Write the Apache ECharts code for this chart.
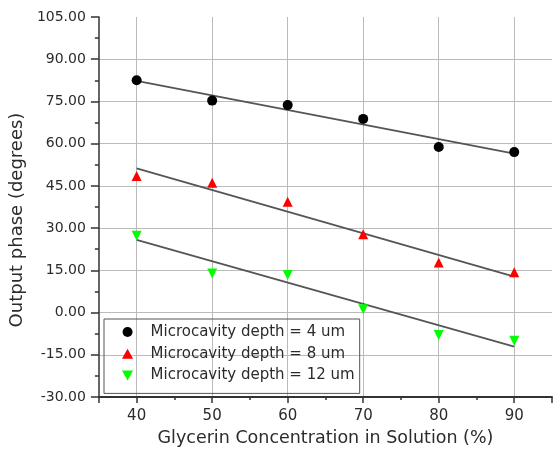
<!DOCTYPE html>
<html>
<head>
<meta charset="utf-8">
<script src="https://cdn.jsdelivr.net/npm/echarts@6/dist/echarts.min.js"></script>
<style>
  html, body { margin: 0; padding: 0; background: #fff; }
  #main { width: 555px; height: 453px; }
</style>
</head>
<body>
<div id="main"></div>
<script>
var concentration = [40, 50, 60, 70, 80, 90];
var depth4 = [82.5, 75.3, 73.7, 68.8, 58.8, 57.0];
var depth8 = [48.5, 46.1, 39.4, 27.8, 17.8, 14.3];
var depth12 = [27.3, 13.9, 13.3, 1.2, -8.0, -10.0];
// fitted lines, end points (x = 40 and x = 90)
var fitX = [40, 90];
var fit4 = [82.3, 56.5];
var fit8 = [51.2, 12.8];
var fit12 = [25.8, -12.1];
var names = ['Microcavity depth = 4 um', 'Microcavity depth = 8 um', 'Microcavity depth = 12 um'];

var font = 'DejaVu Sans';
var triUp = 'path://M5,0 L10,9 L0,9 Z';
var triDown = 'path://M0,0 L10,0 L5,9 Z';

function pairs(xs, ys) {
    return xs.map(function (x, i) { return [x, ys[i]]; });
}
function fitLine(ys) {
    return {
        type: 'line',
        data: pairs(fitX, ys),
        symbol: 'none',
        silent: true,
        lineStyle: { color: '#555', width: 1.8 },
        z: 2
    };
}
function points(name, ys, symbol, color) {
    return {
        name: name,
        type: 'scatter',
        data: pairs(concentration, ys),
        symbol: symbol,
        symbolSize: 10,
        itemStyle: { color: color, opacity: 1 },
        z: 3
    };
}

var chart = echarts.init(document.getElementById('main'));
var option = {
    animation: false,
    grid: { left: 97, top: 17, width: 461.5, height: 380 },
    legend: {
        data: [
            { name: names[0], icon: 'circle' },
            { name: names[1], icon: triUp },
            { name: names[2], icon: triDown }
        ],
        orient: 'vertical',
        left: 104,
        top: 319,
        padding: [4, 5, 9, 18],
        itemWidth: 36,
        itemHeight: 10,
        itemGap: 3.7,
        symbolKeepAspect: true,
        borderColor: '#555',
        borderWidth: 1,
        textStyle: { fontFamily: font, fontSize: 15, color: '#2b2b2b', lineHeight: 18 }
    },
    xAxis: [{
        type: 'value',
        min: 35,
        max: 95,
        splitNumber: 6,
        name: 'Glycerin Concentration in Solution (%)',
        nameLocation: 'middle',
        nameGap: 32,
        nameTextStyle: { fontFamily: font, fontSize: 17.5, color: '#2b2b2b' },
        axisLine: { onZero: false, lineStyle: { color: '#333', width: 2 } },
        axisTick: { length: 6, lineStyle: { color: '#333', width: 1.5 } },
        axisLabel: {
            fontFamily: font, fontSize: 15, color: '#2b2b2b', margin: 12,
            formatter: function (v) { return v % 10 === 0 ? String(v) : ''; }
        },
        splitLine: { show: true, showMinLine: false, showMaxLine: false, lineStyle: { color: '#bbb', width: 1 } }
    }, {
        type: 'value',
        min: 35,
        max: 95,
        interval: 5,
        position: 'bottom',
        axisLine: { show: false, onZero: false },
        axisTick: { length: 3, lineStyle: { color: '#333', width: 1.5 } },
        axisLabel: { show: false },
        splitLine: { show: false }
    }],
    yAxis: {
        type: 'value',
        min: -30,
        max: 105,
        interval: 15,
        name: 'Output phase (degrees)',
        nameLocation: 'middle',
        nameGap: 62,
        nameTextStyle: { fontFamily: font, fontSize: 18, color: '#2b2b2b', padding: [0, 26, 0, 0] },
        axisLine: { show: true, onZero: false, lineStyle: { color: '#333', width: 1.5 } },
        axisTick: { show: true, length: 8, lineStyle: { color: '#333', width: 1.5 } },
        minorTick: { show: true, splitNumber: 2, length: 4, lineStyle: { color: '#333', width: 1.5 } },
        axisLabel: {
            fontFamily: font, fontSize: 14, color: '#2b2b2b', margin: 13,
            formatter: function (v) { return v.toFixed(2); }
        },
        splitLine: { show: true, showMinLine: false, showMaxLine: false, lineStyle: { color: '#bbb', width: 1 } }
    },
    series: [
        fitLine(fit4),
        fitLine(fit8),
        fitLine(fit12),
        points(names[0], depth4, 'circle', '#000'),
        points(names[1], depth8, triUp, '#ff0000'),
        points(names[2], depth12, triDown, '#00ff00')
    ]
};
option && chart.setOption(option);
</script>
</body>
</html>
